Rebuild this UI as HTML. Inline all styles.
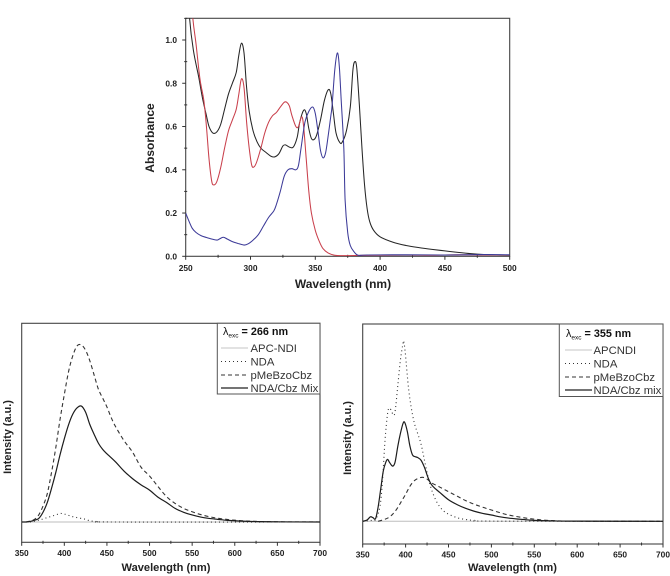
<!DOCTYPE html>
<html lang="en">
<head>
<meta charset="utf-8">
<title>Absorbance and emission spectra</title>
<style>
  html, body { margin: 0; padding: 0; background: #fff; }
  svg { display: block; filter: blur(0.3px); font-family: "Liberation Sans", Arial, sans-serif; fill: #222; }
  .tick-label { font-size: 8.4px; font-weight: bold; }
  .axis-title { font-weight: bold; }
  .legend-text { font-size: 11.3px; fill: #333; }
  .legend-head { font-size: 10.8px; font-weight: bold; fill: #111; }
</style>
</head>
<body>
<svg id="figure" width="670" height="576" viewBox="0 0 670 576" xmlns="http://www.w3.org/2000/svg">
  <defs>
    <clipPath id="clip-abs"><rect x="185.7" y="18.3" width="324" height="238"/></clipPath>
    <clipPath id="clip-left"><rect x="21.7" y="323.3" width="298.3" height="219"/></clipPath>
    <clipPath id="clip-right"><rect x="362.7" y="324" width="300.3" height="220"/></clipPath>
  </defs>
  <g id="abs-chart">
    <rect x="185.7" y="18.3" width="324" height="238" fill="none" stroke="#444" stroke-width="1.1"/>
    <text class="axis-title" x="343" y="288" font-size="12" text-anchor="middle">Wavelength (nm)</text>
    <text class="axis-title" transform="translate(154,138) rotate(-90)" font-size="12" text-anchor="middle">Absorbance</text>
  </g>
  <g id="left-chart">
    <rect x="21.7" y="323.3" width="298.3" height="219" fill="none" stroke="#444" stroke-width="1.1"/>
    <text class="axis-title" x="166" y="571" font-size="11.1" text-anchor="middle">Wavelength (nm)</text>
    <text class="axis-title" transform="translate(11,437) rotate(-90)" font-size="10.9" text-anchor="middle">Intensity (a.u.)</text>
  </g>
  <g id="right-chart">
    <rect x="362.7" y="324" width="300.3" height="220" fill="none" stroke="#444" stroke-width="1.1"/>
    <text class="axis-title" x="512.5" y="571" font-size="11.1" text-anchor="middle">Wavelength (nm)</text>
    <text class="axis-title" transform="translate(351,438) rotate(-90)" font-size="10.9" text-anchor="middle">Intensity (a.u.)</text>
  </g>
  <g>
    <rect x="217.3" y="323.3" width="102.7" height="70.7" fill="#fff" stroke="#555" stroke-width="1"/>
    <text class="legend-head" x="223" y="335"><tspan font-weight="normal">λ</tspan><tspan font-size="6.5" dy="2.5" font-weight="normal">exc</tspan><tspan dy="-2.5"> = 266 nm</tspan></text>
    <line x1="221" x2="248" y1="348" y2="348" stroke="#c4c4c4" stroke-width="1"/>
    <text class="legend-text" x="250.5" y="352">APC-NDI</text>
    <line x1="221" x2="248" y1="361.5" y2="361.5" stroke="#333" stroke-width="1.1" stroke-dasharray="1 3"/>
    <text class="legend-text" x="250.5" y="365.5">NDA</text>
    <line x1="221" x2="248" y1="375" y2="375" stroke="#333" stroke-width="1.1" stroke-dasharray="4 3"/>
    <text class="legend-text" x="250.5" y="379">pMeBzoCbz</text>
    <line x1="221" x2="248" y1="388" y2="388" stroke="#222" stroke-width="1.2"/>
    <text class="legend-text" x="250.5" y="392">NDA/Cbz Mix</text>
  </g>
  <g>
    <rect x="559.3" y="324" width="103.7" height="72.5" fill="#fff" stroke="#555" stroke-width="1"/>
    <text class="legend-head" x="566" y="337"><tspan font-weight="normal">λ</tspan><tspan font-size="6.5" dy="2.5" font-weight="normal">exc</tspan><tspan dy="-2.5"> = 355 nm</tspan></text>
    <line x1="565" x2="592" y1="350" y2="350" stroke="#c4c4c4" stroke-width="1"/>
    <text class="legend-text" x="593.5" y="354">APCNDI</text>
    <line x1="565" x2="592" y1="363.5" y2="363.5" stroke="#333" stroke-width="1.1" stroke-dasharray="1 3"/>
    <text class="legend-text" x="593.5" y="367.5">NDA</text>
    <line x1="565" x2="592" y1="377" y2="377" stroke="#333" stroke-width="1.1" stroke-dasharray="4 3"/>
    <text class="legend-text" x="593.5" y="381">pMeBzoCbz</text>
    <line x1="565" x2="592" y1="390" y2="390" stroke="#222" stroke-width="1.2"/>
    <text class="legend-text" x="593.5" y="394">NDA/Cbz mix</text>
  </g>
</svg>
<script>
// ---- Absorbance panel ----
const absXTicks = [250, 300, 350, 400, 450, 500];
const absYTicks = [0, 0.2, 0.4, 0.6, 0.8, 1.0];
const absYLabels = ["0.0", "0.2", "0.4", "0.6", "0.8", "1.0"];

const blackWl = [250,253,256,260,263,266,268,271,274,277,280,283,286,289,291,293,295,297,299,302,305,308,312,316,319,322,325,327,330,333,336,338,341,343,345,347,349,351,354,357,360,362,364,366,369,371,374,377,379,380.5,382,384,386,388,390,392,395,400,410,420,430,440,450,460,470,480,490,500];
const blackAbs = [1.4,1.1,0.95,0.83,0.73,0.65,0.6,0.57,0.575,0.61,0.68,0.75,0.8,0.85,0.93,0.985,0.94,0.78,0.67,0.58,0.53,0.5,0.48,0.462,0.46,0.475,0.51,0.515,0.505,0.505,0.55,0.62,0.675,0.66,0.59,0.545,0.54,0.56,0.63,0.72,0.77,0.75,0.66,0.57,0.525,0.53,0.58,0.69,0.86,0.9,0.87,0.7,0.5,0.33,0.22,0.16,0.12,0.09,0.065,0.05,0.04,0.032,0.025,0.018,0.012,0.008,0.006,0.005];

const redWl = [250,255,258,261,264,266,268,270,271.5,274,277,280,283,286,289,291,293,295,297,299,301,303,305,308,311,314,317,320,323,326,328,330,332,335,337,339.5,341,343,345,347,350,353,356,360,365,370,385,400,420,440,460,480,500];
const redAbs = [1.5,1.13,0.98,0.82,0.72,0.6,0.45,0.35,0.33,0.345,0.41,0.5,0.58,0.63,0.68,0.75,0.82,0.78,0.62,0.5,0.42,0.415,0.44,0.5,0.57,0.62,0.65,0.665,0.69,0.712,0.712,0.695,0.65,0.6,0.6,0.645,0.6,0.45,0.3,0.2,0.12,0.07,0.035,0.015,0.005,0.003,0.004,0.005,0.006,0.005,0.007,0.006,0.006];

const blueWl = [250,252,255,258,262,266,270,274,276,279,282,286,290,295,298,302,306,310,314,318,320,323,326,329,332,335,337,339,342,345,348,350,352,354,356,358,360,362,363,365,367,368.5,370,372,373,375,377,380,383,390,420,450,480,500];
const blueAbs = [0.2,0.17,0.13,0.11,0.095,0.087,0.08,0.075,0.08,0.088,0.08,0.068,0.06,0.052,0.057,0.075,0.1,0.14,0.18,0.21,0.24,0.3,0.37,0.4,0.405,0.4,0.42,0.5,0.62,0.67,0.69,0.66,0.58,0.49,0.455,0.48,0.56,0.65,0.7,0.86,0.94,0.88,0.72,0.5,0.26,0.11,0.05,0.02,0.005,0.006,0.007,0.006,0.008,0.007];

// ---- Emission panel, excitation 266 nm ----
const emXTicks = [350, 400, 450, 500, 550, 600, 650, 700];

const apc266Wl = [350, 700];
const apc266Int = [0, 0];

const nda266Wl = [355,360,370,380,390,395,400,410,420,425,430,440,460,700];
const nda266Int = [0,0,1,2.5,4,4.8,4.5,3,2,1.5,0.7,0.2,0,0];

const pme266Wl = [355,360,365,370,375,380,385,390,395,400,405,410,415,420,425,430,435,440,445,450,455,460,470,480,490,500,510,520,530,540,550,560,570,580,590,600,620,650,700];
const pme266Int = [0,0.5,1.5,4,9,16,28,42,58,72,85,94,99.5,100,97,91,83,75,70,65,59,54,46,39.5,31,26,20,14.3,10.5,7.7,5.8,4.2,3,2.1,1.5,1,0.4,0.1,0];

const mix266Wl = [350,355,360,365,370,375,380,385,390,395,400,405,410,415,420,425,430,435,440,445,450,460,470,480,490,500,510,520,530,540,550,560,570,580,590,600,620,650,700];
const mix266Int = [0,0,0.3,1,2,5.5,11,19,28,38,47,55,61,64.5,65.5,62,55,49.5,44.5,41,38.5,34,28.8,24.5,21,18,14,11,7.7,5.5,4,2.8,2,1.5,1,0.7,0.3,0.1,0];

// ---- Emission panel, excitation 355 nm ----
const apc355Wl = [350, 700];
const apc355Int = [0, 0];

const nda355Wl = [350,360,365,370,373,376,379,381,383,386,388,391,394,397,398,400,403,406,410,414,418,422,426,430,435,440,445,450,460,470,480,500,700];
const nda355Int = [0,0.5,1,8,22,45,60,63,62,59,62,76,90,99,100,92,76,65,55,49,43,34,25,18,12,8,5.5,4,2,1,0.5,0.1,0];

const pme355Wl = [368,375,380,385,390,395,400,405,410,415,420,425,430,440,450,460,470,480,490,500,510,520,530,540,550,560,570,580,600,700];
const pme355Int = [0,1,2,4,7,11,15,19.5,22.5,24,24.5,23.5,21.5,19,16.5,14,11.5,9.5,7.8,6.3,4.8,3.5,2.6,1.8,1.2,0.7,0.4,0.2,0.1,0];

const mix355Wl = [350,355,359,362,365,368,371,374,377,379,381,384,386,388,391,394,397,399,402,405,408,411,414,418,422,426,430,435,440,450,460,470,480,490,500,510,520,530,540,550,570,600,700];
const mix355Int = [0,0.7,2.5,2,1.5,8,18,28,33,34.5,33,31,31,33.5,42,49,54.5,55,50,42,37,36,35.5,34,30,24.5,20.5,18,16,12,9.3,7.2,5.6,4.4,3.5,2.5,1.8,1.3,0.9,0.5,0.25,0.1,0];

const SVG_NS = "http://www.w3.org/2000/svg";

function linearScale(d0, d1, r0, r1) {
  return function (v) { return r0 + (v - d0) * (r1 - r0) / (d1 - d0); };
}

function smoothPath(xs, ys, xScale, yScale) {
  const p = xs.map(function (x, i) { return [xScale(x), yScale(ys[i])]; });
  let d = "M" + p[0][0].toFixed(2) + " " + p[0][1].toFixed(2);
  for (let i = 0; i < p.length - 1; i++) {
    const a = p[Math.max(i - 1, 0)], b = p[i], c = p[i + 1], e = p[Math.min(i + 2, p.length - 1)];
    const c1x = b[0] + (c[0] - a[0]) / 6, c1y = b[1] + (c[1] - a[1]) / 6;
    const c2x = c[0] - (e[0] - b[0]) / 6, c2y = c[1] - (e[1] - b[1]) / 6;
    d += "C" + c1x.toFixed(2) + " " + c1y.toFixed(2) + " " + c2x.toFixed(2) + " " + c2y.toFixed(2) + " " + c[0].toFixed(2) + " " + c[1].toFixed(2);
  }
  return d;
}

function drawSeries(parent, name, xs, ys, xScale, yScale, clipId, color, width, dash) {
  const el = document.createElementNS(SVG_NS, "path");
  
  
  el.setAttribute("d", smoothPath(xs, ys, xScale, yScale));
  el.setAttribute("fill", "none");
  el.setAttribute("stroke", color);
  el.setAttribute("stroke-width", width);
  if (dash) el.setAttribute("stroke-dasharray", dash);
  el.setAttribute("clip-path", "url(#" + clipId + ")");
  parent.appendChild(el);
}

function drawTick(parent, name, x1, y1, x2, y2) {
  const el = document.createElementNS(SVG_NS, "line");
  
  
  el.setAttribute("x1", x1);
  el.setAttribute("y1", y1);
  el.setAttribute("x2", x2);
  el.setAttribute("y2", y2);
  el.setAttribute("stroke", "#333");
  el.setAttribute("stroke-width", "1");
  parent.appendChild(el);
}

function drawLabel(parent, name, text, x, y, anchor) {
  const el = document.createElementNS(SVG_NS, "text");
  
  
  el.setAttribute("class", "tick-label");
  el.setAttribute("x", x);
  el.setAttribute("y", y);
  el.setAttribute("text-anchor", anchor);
  el.textContent = text;
  parent.appendChild(el);
}

function drawXAxis(parent, prefix, ticks, xScale, bottom, labelY) {
  ticks.forEach(function (t, i) {
    const x = xScale(t);
    drawTick(parent, prefix + "-x-tick", x, bottom, x, bottom + 3.5);
    drawLabel(parent, prefix + "-x-tick-label", String(t), x, labelY, "middle");
    if (i < ticks.length - 1) {
      const mx = xScale((t + ticks[i + 1]) / 2);
      drawTick(parent, prefix + "-x-minor-tick", mx, bottom - 1.5, mx, bottom + 1.5);
    }
  });
}

// Absorbance panel
(function () {
  const g = document.getElementById("abs-chart");
  const x = linearScale(250, 500, 185.7, 509.7);
  const y = linearScale(0, 1.0, 256.3, 40);
  drawXAxis(g, "absorbance", absXTicks, x, 256.3, 271);
  absYTicks.forEach(function (t, i) {
    const py = y(t);
    drawTick(g, "absorbance-y-tick", 185.7, py, 182.2, py);
    drawLabel(g, "absorbance-y-tick-label", absYLabels[i], 177, py + 3, "end");
    const my = y(t + 0.1);
    drawTick(g, "absorbance-y-minor-tick", 187.2, my, 184.2, my);
  });
  drawSeries(g, "absorbance-black-series", blackWl, blackAbs, x, y, "clip-abs", "#262626", 1.05);
  drawSeries(g, "absorbance-red-series", redWl, redAbs, x, y, "clip-abs", "#c9404c", 1.05);
  drawSeries(g, "absorbance-blue-series", blueWl, blueAbs, x, y, "clip-abs", "#3c3a98", 1.05);
})();

// Emission panel, 266 nm
(function () {
  const g = document.getElementById("left-chart");
  const x = linearScale(350, 700, 21.7, 320);
  const y = linearScale(0, 100, 522, 345);
  drawXAxis(g, "emission-266", emXTicks, x, 542.3, 556);
  drawSeries(g, "emission-266-apc-ndi-series", apc266Wl, apc266Int, x, y, "clip-left", "#bdbdbd", 1);
  drawSeries(g, "emission-266-nda-series", nda266Wl, nda266Int, x, y, "clip-left", "#333", 1.1, "1 3");
  drawSeries(g, "emission-266-pmebzocbz-series", pme266Wl, pme266Int, x, y, "clip-left", "#333", 1.1, "4 3");
  drawSeries(g, "emission-266-mix-series", mix266Wl, mix266Int, x, y, "clip-left", "#1c1c1c", 1.2);
})();

// Emission panel, 355 nm
(function () {
  const g = document.getElementById("right-chart");
  const x = linearScale(350, 700, 362.7, 663);
  const y = linearScale(0, 100, 521.3, 341.7);
  drawXAxis(g, "emission-355", emXTicks, x, 544, 557.7);
  drawSeries(g, "emission-355-apcndi-series", apc355Wl, apc355Int, x, y, "clip-right", "#bdbdbd", 1);
  drawSeries(g, "emission-355-nda-series", nda355Wl, nda355Int, x, y, "clip-right", "#333", 1.1, "1 3");
  drawSeries(g, "emission-355-pmebzocbz-series", pme355Wl, pme355Int, x, y, "clip-right", "#333", 1.1, "4 3");
  drawSeries(g, "emission-355-mix-series", mix355Wl, mix355Int, x, y, "clip-right", "#1c1c1c", 1.2);
})();
</script>
</body>
</html>
